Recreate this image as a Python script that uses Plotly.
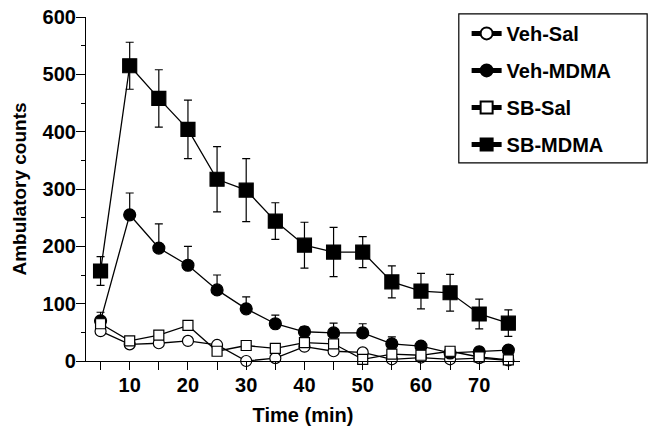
import plotly.graph_objects as go

time = [5, 10, 15, 20, 25, 30, 35, 40, 45, 50, 55, 60, 65, 70, 75]

veh_sal = [52, 29, 31, 35, 28, 0, 5, 25, 17, 15, 3, 6, 3, 5, 1]
veh_sal_err = [5, 3, 3, 3, 3, 2, 2, 3, 3, 3, 2, 2, 2, 2, 2]

veh_mdma = [70, 255, 197, 167, 124, 91, 65, 51, 49, 49, 30, 26, 14, 16, 19]
veh_mdma_err = [15, 38, 42, 33, 26, 21, 15, 9, 17, 16, 12, 8, 6, 8, 8]

sb_sal = [65, 35, 45, 62, 17, 27, 22, 32, 30, 3, 12, 10, 17, 7, 2]
sb_sal_err = [5, 4, 4, 5, 3, 3, 3, 4, 4, 2, 3, 3, 3, 2, 2]

sb_mdma = [157, 515, 458, 404, 317, 298, 244, 202, 190, 190, 138, 122, 119, 82, 66]
sb_mdma_err = [25, 41, 50, 51, 57, 55, 32, 40, 43, 27, 28, 31, 32, 26, 23]

x_tick_vals = [5, 10, 15, 20, 25, 30, 35, 40, 45, 50, 55, 60, 65, 70, 75]
x_tick_text = ["", "10", "", "20", "", "30", "", "40", "", "50", "", "60", "", "70", ""]
y_tick_vals = [0, 100, 200, 300, 400, 500, 600]

fig = go.Figure()

def add(name, y, err, fill, symbol, size, upper_only=False):
    ey = dict(type="data", array=err, color="black", thickness=1.2, width=4, visible=True)
    if upper_only:
        ey["symmetric"] = False
        ey["arrayminus"] = [0] * len(err)
    fig.add_trace(go.Scatter(
        x=time, y=y, name=name, mode="lines+markers", legendgroup=name,
        line=dict(color="black", width=1.3),
        marker=dict(symbol=symbol, size=size, color=fill,
                    line=dict(color="black", width=1.2)),
        error_y=ey, cliponaxis=False,
    ))

add("Veh-Sal", veh_sal, veh_sal_err, "white", "circle", 11, upper_only=True)
add("Veh-MDMA", veh_mdma, veh_mdma_err, "black", "circle", 12, upper_only=True)
add("SB-Sal", sb_sal, sb_sal_err, "white", "square", 10, upper_only=True)
add("SB-MDMA", sb_mdma, sb_mdma_err, "black", "square", 14)

font = dict(family="Liberation Sans, Arial, sans-serif", color="black", weight="bold")

fig.update_layout(
    width=648, height=426,
    margin=dict(l=86, r=128, t=17, b=65),
    paper_bgcolor="white", plot_bgcolor="white",
    font=font,
    showlegend=True,
    legend=dict(x=0.877, y=1.009, xanchor="left", yanchor="top",
                borderwidth=0, bgcolor="rgba(0,0,0,0)",
                font=dict(size=20, **font), tracegroupgap=8,
                traceorder="grouped", itemsizing="constant"),
    shapes=[dict(type="rect", xref="paper", yref="paper",
                 x0=0.859, x1=1.293, y0=0.576, y1=1.009,
                 line=dict(color="black", width=1.2), fillcolor="rgba(0,0,0,0)", layer="above")],
    xaxis=dict(range=[2.5, 77], tickmode="array", tickvals=x_tick_vals, ticktext=x_tick_text,
               ticks="outside", ticklen=8, tickwidth=1, tickcolor="black",
               showline=True, linecolor="black", linewidth=1.2, showgrid=False, zeroline=False,
               automargin=False, ticklabelstandoff=-2,
               tickfont=dict(size=20, **font),
               title=dict(text="Time (min)", font=dict(size=20, **font), standoff=14)),
    yaxis=dict(range=[0, 600], tickmode="array", tickvals=y_tick_vals,
               ticks="outside", ticklen=9, tickwidth=1, tickcolor="black",
               minor=dict(tickvals=[50, 150, 250, 350, 450, 550], ticks="outside", ticklen=4, tickcolor="black"),
               showline=True, linecolor="black", linewidth=1.2, showgrid=False, zeroline=False,
               automargin=False, ticklabelstandoff=-4,
               tickfont=dict(size=20, **font),
               title=dict(text="Ambulatory counts", font=dict(size=19, **font), standoff=10)),
)

fig.write_html("out.html", config={"displayModeBar": False},
               post_script="document.body.style.margin='0px';")
